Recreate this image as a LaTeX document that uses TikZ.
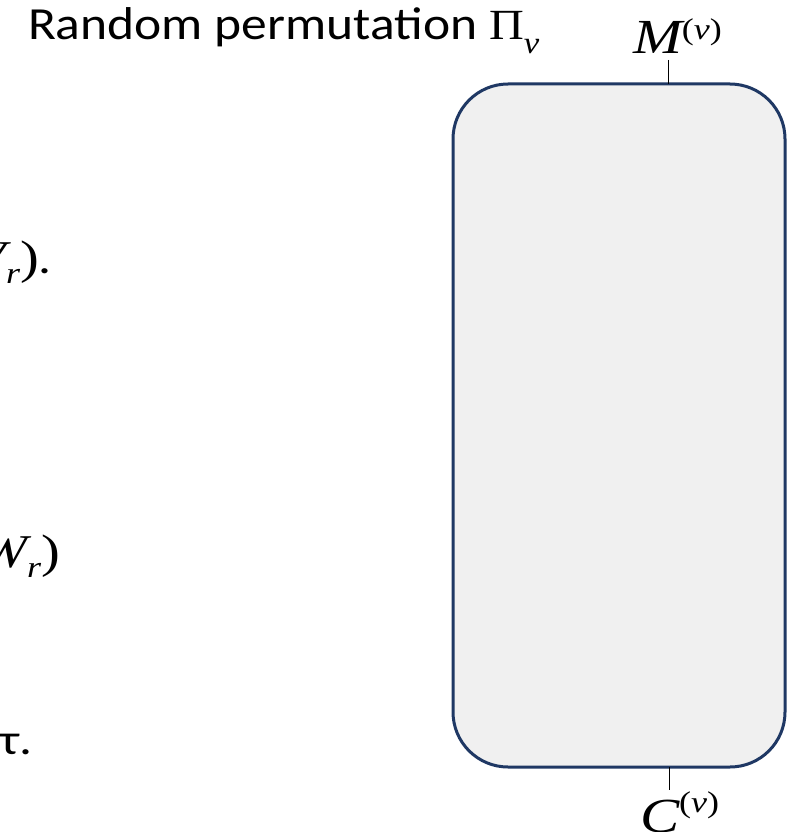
\documentclass[tikz,border=0pt]{standalone}
\usepackage{graphicx}
\usepackage{fontspec}
\setmainfont{Carlito}
\newfontfamily\tms{Liberation Serif}
\definecolor{boxline}{HTML}{1F3864}
\definecolor{boxfill}{HTML}{F0F0F0}
\tikzset{
  permbox/.style={draw=boxline, fill=boxfill, line width=3pt, rounded corners=55pt,
    inner sep=0pt, outer sep=0pt, minimum width=332pt, minimum height=683pt},
  wire/.style={draw=black, line width=1pt},
  lbl/.style={inner sep=0pt, outer sep=0pt, text=black},
}
\newcommand{\wide}[1]{\scalebox{1.2}[1]{#1}}
\newcommand{\tiwide}[1]{\scalebox{1.12}[1]{#1}}
\newcommand{\bigtms}{\tms\fontsize{49}{49}\selectfont}
\newcommand{\suptms}{\tms\fontsize{30}{30}\selectfont}
\newcommand{\lefttms}{\tms\fontsize{47}{47}\selectfont}
\newcommand{\subtms}{\tms\fontsize{30}{30}\selectfont}
\newcommand{\calfnt}{\fontsize{43}{43}\selectfont}
\begin{document}
\begin{tikzpicture}[x=1pt,y=-1pt]
\useasboundingbox (0,0) rectangle (800,832);
\clip (0,0) rectangle (800,832);

% box
\node[permbox] (box) at (619,425.5) {};

% top and bottom wires
\coordinate (mtop) at (668,60);
\coordinate (cbot) at (669,790);
\draw[wire] (mtop) -- (mtop |- box.north);
\draw[wire] (cbot |- box.south) -- (cbot);

% labels
\node[lbl, anchor=base west] (Mlab) at (633,54)
  {\wide{{\bigtms\itshape M}\raisebox{14pt}{\suptms(\textit{ν})}}};
\node[lbl, anchor=base west] (Clab) at (640,832)
  {\wide{{\bigtms\itshape C}\raisebox{20pt}{\suptms(\textit{ν})}}};

\node[lbl, anchor=base west] (title) at (28,40)
  {\tiwide{\fontsize{46}{46}\selectfont Random permutation {\tms\fontsize{43}{43}\selectfont Π}\raisebox{-14pt}{\tms\itshape\fontsize{31}{31}\selectfont ν}}};

% left fragments
\node[lbl, anchor=base east] (vr) at (52,273)
  {\wide{{\lefttms\itshape V}\raisebox{-10pt}{\subtms\itshape r}{\lefttms )}{\calfnt .}}};
\node[lbl, anchor=base east] (wr) at (60,567)
  {\wide{{\lefttms\itshape W}\raisebox{-10pt}{\subtms\itshape r}{\lefttms )}}};
\node[lbl, anchor=base east] (tau) at (33,754)
  {\wide{\calfnt τ.}};
\end{tikzpicture}
\end{document}
